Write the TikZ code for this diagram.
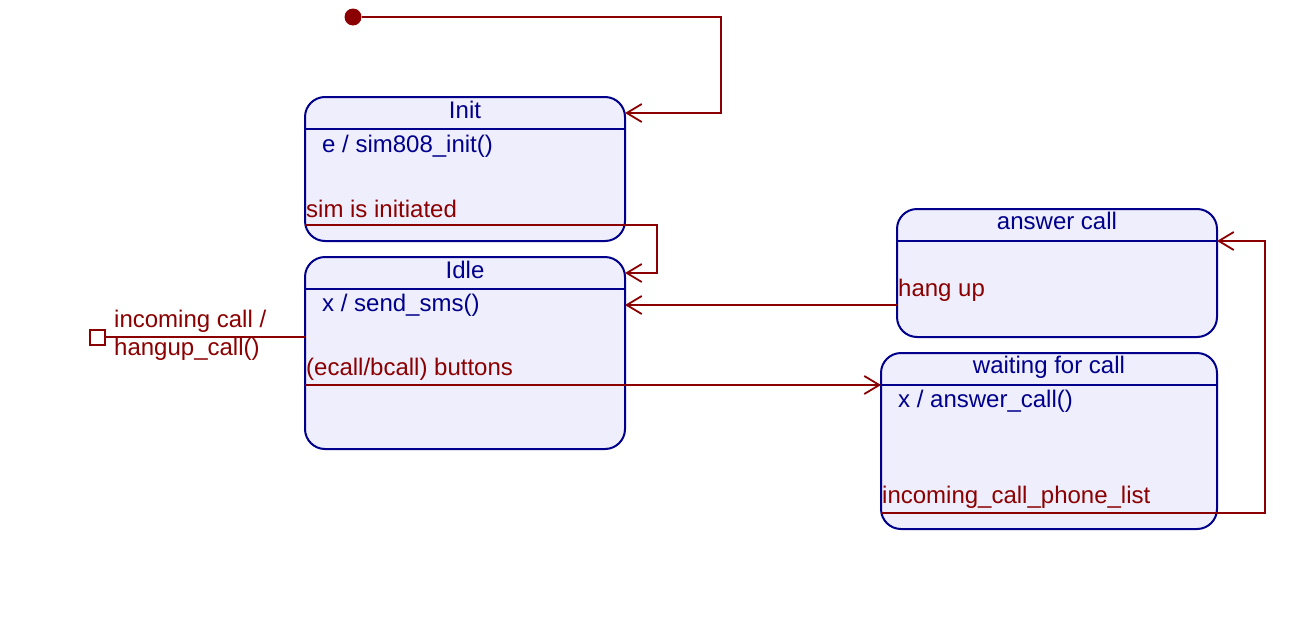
\documentclass[tikz,border=0pt]{standalone}
\usepackage{fontspec}
\setmainfont{Liberation Sans}
\usetikzlibrary{arrows.meta}
\definecolor{stateblue}{RGB}{0,0,140}
\definecolor{statefill}{RGB}{238,238,252}
\definecolor{trred}{RGB}{139,0,0}
\begin{document}
\begin{tikzpicture}[x=1pt,y=-1pt,
  statebox/.style={draw=stateblue,fill=statefill,line width=2pt,rounded corners=20pt,
    anchor=north west,inner sep=0pt,outer sep=0pt},
  hdr/.style={draw=stateblue,line width=2pt},
  stxt/.style={text=stateblue,inner sep=0pt,font=\fontsize{24pt}{27pt}\selectfont},
  ttxt/.style={text=trred,inner sep=0pt,font=\fontsize{24pt}{27pt}\selectfont,anchor=base west},
  tr/.style={draw=trred,line width=2pt,-{Straight Barb[length=15pt,width=18pt,line width=1.8pt]}},
  trline/.style={draw=trred,line width=2pt}]
\useasboundingbox[fill=white] (0,0) rectangle (1296,624);
% states
\node[statebox,minimum width=320pt,minimum height=144pt] (init) at (305,97) {};
\draw[hdr] (init.west |- 0,129) -- (init.east |- 0,129);
\node[statebox,minimum width=320pt,minimum height=192pt] (idle) at (305,257) {};
\draw[hdr] (idle.west |- 0,289) -- (idle.east |- 0,289);
\node[statebox,minimum width=320pt,minimum height=128pt] (answer) at (897,209) {};
\draw[hdr] (answer.west |- 0,241) -- (answer.east |- 0,241);
\node[statebox,minimum width=336pt,minimum height=176pt] (waiting) at (881,353) {};
\draw[hdr] (waiting.west |- 0,385) -- (waiting.east |- 0,385);
% state texts
\node[stxt,anchor=base] (initT) at (465,118) {Init};
\node[stxt,anchor=base west] (initA) at (322,152) {e / sim808\_init()};
\node[stxt,anchor=base] (idleT) at (465,278) {Idle};
\node[stxt,anchor=base west] (idleA) at (322,311) {x / send\_sms()};
\node[stxt,anchor=base] (answerT) at (1057,229) {answer call};
\node[stxt,anchor=base] (waitingT) at (1049,373) {waiting for call};
\node[stxt,anchor=base west] (waitingA) at (898,407) {x / answer\_call()};
% pseudo states
\node[circle,fill=trred,minimum size=17pt,inner sep=0pt] (start) at (353,17) {};
\node[draw=trred,fill=white,line width=2pt,minimum size=15pt,inner sep=0pt] (hist) at (97,337) {};
% transitions
\coordinate (c1) at (721,113);
\draw[tr] (start) -| (c1) -- (init.east |- c1);
\coordinate (s0) at (305,225);
\coordinate (s1) at (657,273);
\draw[tr] (s0) -| (s1) -- (idle.east |- s1);
\draw[tr] (answer.west |- 0,305) -- (idle.east |- 0,305);
\draw[tr] (idle.west |- 0,385) -- (waiting.west |- 0,385);
\coordinate (p1) at (1265,241);
\draw[tr] (waiting.west |- 0,513) -| (p1) -- (answer.east |- p1);
\draw[trline] (hist.east) -- (idle.west |- hist);
% transition labels
\node[ttxt] (lsim) at (306,217) {sim is initiated};
\node[ttxt] (lhang) at (898,296) {hang up};
\node[ttxt] (lbtn) at (306,375) {(ecall/bcall) buttons};
\node[ttxt] (lphone) at (882,503) {incoming\_call\_phone\_list};
\node[ttxt] (linc1) at (114,327) {incoming call /};
\node[ttxt] (linc2) at (114,355) {hangup\_call()};
\end{tikzpicture}
\end{document}
